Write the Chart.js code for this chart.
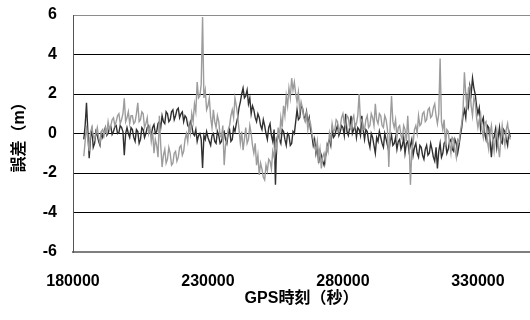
<!DOCTYPE html>
<html><head><meta charset="utf-8">
<script src="https://cdn.jsdelivr.net/npm/chart.js@4/dist/chart.umd.min.js"></script>
<style>html,body{margin:0;padding:0;background:#fff;overflow:hidden}#wrap{position:relative;width:530px;height:320px}</style>
</head><body><div id="wrap"><canvas id="c" width="530" height="320"></canvas></div>
<script>
const times = [
184000,184500,185000,185500,186000,186500,187000,187500,188000,188500,
189000,189500,190000,190500,191000,191500,192000,192500,193000,193500,
194000,194500,195000,195500,196000,196500,197000,197500,198000,198500,
199000,199500,200000,200500,201000,201500,202000,202500,203000,203500,
204000,204500,205000,205500,206000,206500,207000,207500,208000,208500,
209000,209500,210000,210500,211000,211500,212000,212500,213000,213500,
214000,214500,215000,215500,216000,216500,217000,217500,218000,218500,
219000,219500,220000,220500,221000,221500,222000,222500,223000,223500,
224000,224500,225000,225500,226000,226500,227000,227500,228000,228500,
229000,229500,230000,230500,231000,231500,232000,232500,233000,233500,
234000,234500,235000,235500,236000,236500,237000,237500,238000,238500,
239000,239500,240000,240500,241000,241500,242000,242500,243000,243500,
244000,244500,245000,245500,246000,246500,247000,247500,248000,248500,
249000,249500,250000,250500,251000,251500,252000,252500,253000,253500,
254000,254500,255000,255500,256000,256500,257000,257500,258000,258500,
259000,259500,260000,260500,261000,261500,262000,262500,263000,263500,
264000,264500,265000,265500,266000,266500,267000,267500,268000,268500,
269000,269500,270000,270500,271000,271500,272000,272500,273000,273500,
274000,274500,275000,275500,276000,276500,277000,277500,278000,278500,
279000,279500,280000,280500,281000,281500,282000,282500,283000,283500,
284000,284500,285000,285500,286000,286500,287000,287500,288000,288500,
289000,289500,290000,290500,291000,291500,292000,292500,293000,293500,
294000,294500,295000,295500,296000,296500,297000,297500,298000,298500,
299000,299500,300000,300500,301000,301500,302000,302500,303000,303500,
304000,304500,305000,305500,306000,306500,307000,307500,308000,308500,
309000,309500,310000,310500,311000,311500,312000,312500,313000,313500,
314000,314500,315000,315500,316000,316500,317000,317500,318000,318500,
319000,319500,320000,320500,321000,321500,322000,322500,323000,323500,
324000,324500,325000,325500,326000,326500,327000,327500,328000,328500,
329000,329500,330000,330500,331000,331500,332000,332500,333000,333500,
334000,334500,335000,335500,336000,336500,337000,337500,338000,338500,
339000,339500,340000,340500,341000,341500,342000];

const seriesDark = [
-0.3,0.4,1.55,0.1,-1.25,-0.2,0.2,-0.7,-0.5,0.1,-0.1,-0.4,-0.6,0.0,-0.2,0.1,0.3,-0.1,0.0,0.3,
0.35,-0.05,0.1,0.35,0.4,0.0,0.05,0.4,0.3,0.1,-1.1,0.0,0.3,0.0,-0.2,0.3,0.2,-0.2,-0.4,0.2,
0.1,-0.5,-0.3,0.3,0.2,-0.2,0.0,0.3,0.4,0.1,-0.1,0.3,0.45,0.0,0.1,0.5,0.6,0.3,0.9,0.6,
0.5,1.1,1.0,0.6,0.7,1.1,1.2,0.7,0.9,1.2,1.28,0.8,1.0,1.1,0.6,0.9,0.8,0.4,0.3,0.6,
0.4,0.0,-0.1,0.2,-0.4,-0.1,0.0,-0.3,-1.75,-0.1,-0.3,0.1,-0.2,-0.4,-0.6,-0.1,0.0,-0.4,-0.5,0.1,
-0.1,-0.5,-0.4,0.0,0.1,-0.3,-0.5,0.0,0.2,-0.4,-0.3,0.3,0.1,0.5,0.8,1.3,1.6,2.0,2.3,1.8,
1.9,2.2,1.5,1.8,1.0,1.4,1.2,0.8,0.6,1.0,0.8,0.4,0.2,0.7,0.4,0.0,-0.3,0.3,0.5,-0.1,
-0.4,0.2,-2.6,-0.3,0.0,-0.3,-0.5,0.2,0.1,-0.3,-0.6,0.0,-0.1,-0.6,-0.5,0.1,0.0,0.6,1.2,0.7,
0.8,1.4,1.3,0.9,0.7,1.1,0.5,0.8,0.2,-0.1,-0.6,-0.3,-1.0,-0.6,-1.5,-0.9,-1.1,-1.4,-1.6,-1.2,
-0.9,-0.5,-0.3,-0.6,0.2,-0.2,-0.1,0.2,0.4,-0.1,0.1,0.4,0.3,-0.1,1.0,0.1,-0.1,0.3,0.9,0.0,
0.2,0.4,-0.2,0.3,0.2,-0.1,0.9,0.2,-0.3,0.2,0.1,-0.4,-0.7,0.0,-0.2,-0.6,-1.0,-0.2,-0.4,0.1,
-0.2,-0.5,-0.7,0.0,-0.3,-0.6,-0.9,-0.4,-0.1,-0.6,-0.5,-0.2,-0.8,-0.4,-0.3,-0.8,-0.6,-0.2,-1.0,-0.5,
-0.4,-0.9,-0.6,-0.3,-1.1,-0.7,-0.5,-1.0,-1.2,-0.6,-0.7,-1.1,-1.3,-0.8,-0.6,-1.1,-1.0,-0.5,-0.8,-1.2,
-1.4,-0.7,-1.77,-0.9,-0.5,-1.2,-1.0,-0.5,-0.4,-1.0,-0.8,-0.4,-0.3,-0.8,-0.9,-0.3,-0.5,-1.0,-0.6,-0.1,
0.3,0.9,1.2,0.8,1.8,1.4,2.4,2.0,2.8,2.3,2.0,1.4,1.0,1.3,0.2,0.6,0.8,0.0,-0.3,0.4,
0.3,-0.4,-1.2,-0.3,-0.2,0.2,-0.7,-0.2,0.3,-0.4,-0.5,0.2,0.1,-0.3,-0.6,0.1,-0.2];

const seriesLight = [
-1.15,-0.4,0.4,-0.3,-0.9,0.1,0.3,-0.1,-0.3,0.0,0.3,-0.2,-0.5,0.1,0.2,-0.1,0.3,0.0,0.6,0.2,
0.4,0.7,0.8,0.4,0.6,0.9,1.0,0.5,0.7,1.0,1.78,0.6,0.8,1.1,0.5,0.9,0.9,0.5,0.6,1.0,
1.55,0.6,0.7,1.1,1.0,0.3,0.5,0.8,0.0,0.3,-0.4,0.1,-1.0,-0.3,-0.6,-1.2,0.9,-0.6,-1.7,-1.1,
-0.8,-1.5,-1.3,-0.7,-1.0,-1.6,-1.5,-1.0,-0.9,-1.4,-1.2,-0.7,-0.6,-1.1,-0.9,-0.3,0.0,-0.4,0.4,0.0,
1.0,0.6,1.5,1.1,2.6,1.8,1.9,2.5,5.9,1.8,2.2,1.2,1.4,1.8,0.8,0.3,1.2,0.6,0.3,0.9,
0.6,-0.1,-0.2,0.4,-1.6,-0.6,-0.3,0.2,0.4,0.9,1.2,0.8,1.8,1.4,0.9,0.2,-0.5,0.1,-0.85,-0.3,
0.3,-0.5,-0.3,0.4,0.0,-0.6,-1.0,-0.5,-1.6,-1.1,-2.1,-1.5,-1.8,-2.2,-2.35,-1.6,-1.9,-1.3,-1.4,-1.8,
-0.9,-1.2,-0.4,-0.8,0.3,-0.2,0.8,0.3,1.4,0.9,1.9,1.4,2.3,1.8,2.8,2.2,2.6,2.0,1.6,2.1,
1.1,1.6,1.3,0.8,0.6,1.0,0.2,0.7,0.5,0.0,-0.3,-0.6,-0.9,-0.4,-1.3,-0.8,-1.77,-1.2,-1.0,-1.4,
-0.6,-0.9,0.0,-0.4,0.5,0.1,0.2,0.7,0.6,0.1,0.3,0.8,1.0,0.5,0.4,0.9,0.8,0.3,0.2,0.7,
0.9,0.3,0.5,0.9,2.0,0.6,0.7,0.2,0.2,0.7,0.9,0.3,0.4,1.0,0.8,0.4,1.5,0.7,0.5,1.0,
0.9,0.4,0.3,0.9,0.7,0.2,-1.7,0.4,1.9,0.6,0.3,0.7,-0.2,0.3,0.4,-0.1,-0.3,0.4,0.2,-0.4,
0.9,-0.3,-2.6,-0.9,-0.5,0.2,0.4,0.0,0.9,0.4,0.5,1.0,1.1,0.6,0.7,1.2,1.3,0.8,0.9,1.3,
1.5,0.9,0.5,1.0,3.8,0.6,0.2,0.7,-0.6,0.2,0.1,-0.5,-1.0,-0.2,-0.3,-0.8,-1.2,-0.3,-0.4,0.1,
0.5,1.2,3.1,2.0,1.2,2.3,2.4,1.4,0.9,1.8,1.6,0.8,0.3,0.7,1.0,0.2,-0.2,0.5,0.6,-0.4,
-0.8,0.0,0.4,-0.3,-0.9,-0.2,0.2,-0.6,-1.2,-0.3,0.4,-0.2,-0.6,0.2,0.5,-0.1,-0.3];

const xTicks = [180000, 230000, 280000, 330000];
const yTicks = [-6, -4, -2, 0, 2, 4, 6];
const xTitle = 'GPS時刻（秒）';
const yTitle = '誤差（m）';
const xMin = 180000, xMax = 349300, yMin = -6, yMax = 6;

const FAM = "'Liberation Sans', 'Noto Sans CJK JP', Arial, sans-serif";
const fnt = {family: FAM, size: 16, weight: 'bold'};

new Chart(document.getElementById('c').getContext('2d'), {
  type: 'line',
  data: {
    datasets: [
      {label: 'light', data: times.map((t, i) => ({x: t, y: seriesLight[i]})),
       borderColor: '#9c9c9c', borderWidth: 1.4, pointRadius: 0, tension: 0, fill: false, order: 0},
      {label: 'dark', data: times.map((t, i) => ({x: t, y: seriesDark[i]})),
       borderColor: '#303030', borderWidth: 1.4, pointRadius: 0, tension: 0, fill: false, order: 1}
    ]
  },
  options: {
    responsive: false, animation: false, events: [],
    plugins: {legend: {display: false}, tooltip: {enabled: false}},
    layout: {padding: {top: 15, right: 0, left: 0, bottom: 0}},
    scales: {
      x: {
        type: 'linear', min: xMin, max: xMax,
        afterBuildTicks: s => { s.ticks = xTicks.map(v => ({value: v})); },
        grid: {display: false, drawTicks: false},
        border: {display: true, color: '#7f7f7f', width: 2},
        ticks: {padding: 20, color: '#000', font: fnt, maxRotation: 0, autoSkip: false, callback: v => String(v)},
        title: {display: true, text: xTitle, color: '#000', font: fnt, padding: {top: 0, bottom: 12}},
        afterFit: s => { s.height = 68; }
      },
      y: {
        min: yMin, max: yMax,
        afterBuildTicks: s => { s.ticks = yTicks.map(v => ({value: v})); },
        grid: {
          drawTicks: true, tickLength: 16, tickColor: 'rgba(0,0,0,0)', lineWidth: 1,
          color: c => (c.tick && c.tick.value === 6) ? '#8c8c8c' : ((c.tick && c.tick.value === -6) ? 'rgba(0,0,0,0)' : '#000')
        },
        border: {display: true, color: '#555', width: 1},
        ticks: {padding: 0, color: '#000', font: fnt, callback: v => String(v)},
        title: {display: true, text: yTitle, color: '#000', font: fnt, padding: {top: 10, bottom: 0}},
        afterFit: s => { s.width = 73; }
      }
    }
  }
});
</script></body></html>
